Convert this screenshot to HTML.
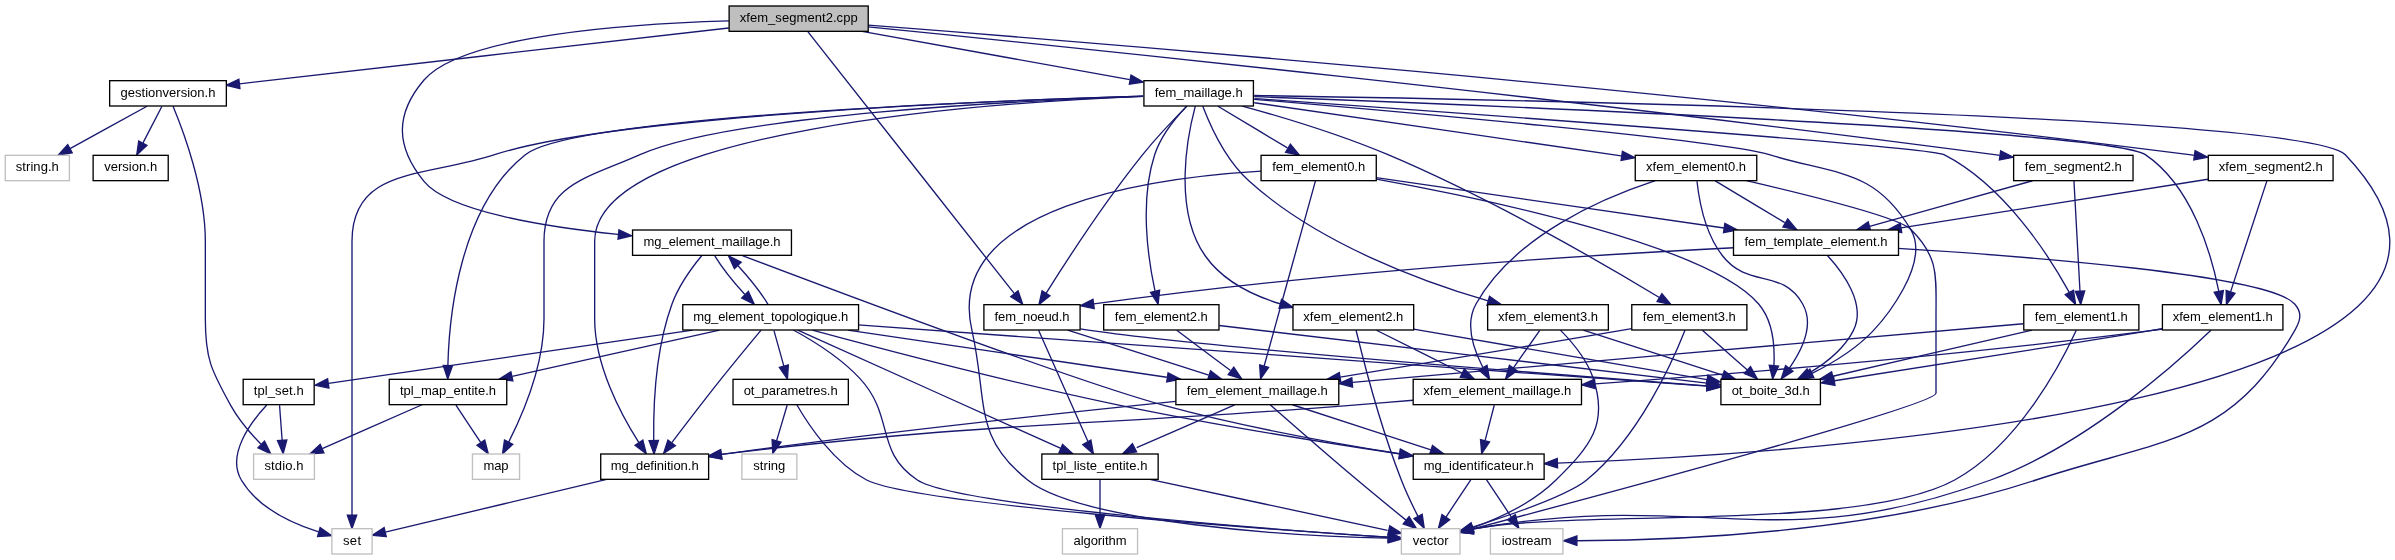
<!DOCTYPE html>
<html><head><meta charset="utf-8"><title>xfem_segment2.cpp</title>
<style>html,body{margin:0;padding:0;background:#fff}svg{display:block;will-change:transform}text{font-family:"Liberation Sans",Helvetica,Arial,sans-serif;font-size:13px;fill:#000;text-anchor:middle}.e{fill:none;stroke:#191970;stroke-width:1.33}.a{fill:#191970;stroke:#191970;stroke-width:1.33}.n{stroke-width:1.33}</style></head><body>
<svg width="2395" height="560" viewBox="0 0 2395 560">
<rect width="2395" height="560" fill="#fff"/>
<path class="e" d="M728.76,27.99C608.03,41.76 361.64,69.89 239.68,83.81"/>
<polygon class="a" points="239.92,88.48 226.15,85.36 238.87,79.21 239.92,88.48"/>
<path class="e" d="M868.29,25.2C1071.96,40.75 1684.09,89.84 2189.33,154.67 2191,154.88 2192.69,155.11 2194.4,155.32"/>
<polygon class="a" points="2195.07,150.71 2207.65,157.13 2193.81,159.96 2195.07,150.71"/>
<path class="e" d="M807.81,31.6C842.65,75.8 967.45,234.12 1014.17,293.39"/>
<polygon class="a" points="1018.07,290.8 1022.67,304.16 1010.75,296.57 1018.07,290.8"/>
<path class="e" d="M868.21,26.87C1052.29,45.25 1567.44,98.05 1994.67,154.67 1996.36,154.89 1998.08,155.12 1999.8,155.36"/>
<polygon class="a" points="2000.68,150.77 2013.24,157.25 1999.39,160.01 2000.68,150.77"/>
<path class="e" d="M728.97,20.81C631.6,23.59 462.41,34.95 424,80 394.79,114.27 395.59,146.39 424,181.33 448.27,211.17 543.68,226.67 618.12,234.37"/>
<polygon class="a" points="618.95,229.76 631.75,235.72 618.03,239.05 618.95,229.76"/>
<path class="e" d="M862.05,31.41C935.05,44.55 1054.56,66.07 1129.8,79.6"/>
<polygon class="a" points="1131.01,75.08 1143.31,82.04 1129.36,84.27 1131.01,75.08"/>
<path class="e" d="M173.04,106.2C183.23,130.63 205.33,189.57 205.33,241.33 205.33,241.33 205.33,241.33 205.33,318.67 205.33,358.8 211.23,370.23 230.67,405.33 238.56,419.6 250.39,433.36 260.89,444.09"/>
<polygon class="a" points="264.48,441.08 270.76,453.73 257.96,447.76 264.48,441.08"/>
<path class="e" d="M147,106.24C126.24,117.68 94.16,135.35 70.05,148.64"/>
<polygon class="a" points="72.2,152.77 58.28,155.13 67.71,144.6 72.2,152.77"/>
<path class="e" d="M161.84,106.56C156.72,116.41 149.31,130.73 142.99,142.92"/>
<polygon class="a" points="147,145.31 136.72,155 138.71,141.01 147,145.31"/>
<path class="e" d="M2207.92,179.27C2128.21,191.89 1990.32,213.73 1901.16,227.85"/>
<polygon class="a" points="1901.73,232.48 1887.83,229.96 1900.27,223.27 1901.73,232.48"/>
<path class="e" d="M2266.91,180.84C2259.12,204.61 2241.12,259.6 2230.64,291.64"/>
<polygon class="a" points="2235,293.32 2226.41,304.55 2226.13,290.43 2235,293.32"/>
<path class="e" d="M1733.68,247.75C1601.49,254.43 1333.55,270.76 1093.95,303.93"/>
<polygon class="a" points="1094.24,308.6 1080.39,305.83 1092.95,299.36 1094.24,308.6"/>
<path class="e" d="M1898.01,248.45C2027.89,256.36 2268.89,274.8 2294.67,304 2302.51,312.88 2300.59,320.4 2294.67,330.67 2228.29,445.63 2161.99,438.19 2036,480 1874.44,533.61 1670.12,540.61 1577.01,540.72"/>
<polygon class="a" points="1576.89,545.39 1563.57,540.69 1576.92,536.05 1576.89,545.39"/>
<path class="e" d="M1827.45,255.44C1842.83,272.23 1866.73,304.4 1853.33,330.67 1844,348.97 1826.17,363 1809.47,372.87"/>
<polygon class="a" points="1811.57,377.04 1797.63,379.32 1807.11,368.84 1811.57,377.04"/>
<path class="e" d="M1067.71,330.08C1105.77,342.24 1166.31,361.59 1208.72,375.13"/>
<polygon class="a" points="1210.52,370.81 1221.8,379.31 1207.68,379.69 1210.52,370.81"/>
<path class="e" d="M1038.59,330.17C1049.27,354.27 1074.18,410.43 1088.29,442.25"/>
<polygon class="a" points="1090.87,439.99 1093.44,453.88 1082.76,444.63 1090.87,439.99"/>
<path class="e" d="M1080.39,328.81C1084.31,329.49 1088.21,330.12 1092,330.67 1209.81,347.6 1561.84,375 1707,385.93"/>
<polygon class="a" points="1707.44,381.28 1720.39,386.93 1706.75,390.59 1707.44,381.28"/>
<path class="e" d="M1292.4,404.75C1329.8,416.91 1389.25,436.25 1430.91,449.8"/>
<polygon class="a" points="1432.52,445.41 1443.76,453.97 1429.64,454.29 1432.52,445.41"/>
<path class="e" d="M1270.17,404.67C1289.12,421.33 1325.71,453.36 1357.33,480 1373.41,493.55 1391.72,508.52 1406.03,520.12"/>
<polygon class="a" points="1409.08,516.6 1416.51,528.61 1403.21,523.85 1409.08,516.6"/>
<path class="e" d="M1175.79,401.41C1071.92,411.99 887,431.72 729.33,453.33 726.75,453.69 724.12,454.05 721.45,454.44"/>
<polygon class="a" points="721.93,459.09 708.05,456.44 720.55,449.87 721.93,459.09"/>
<path class="e" d="M1234.63,404.91C1208.18,416.45 1167.19,434.35 1136.69,447.67"/>
<polygon class="a" points="1136.65,451.89 1122.65,453.8 1132.41,443.59 1136.65,451.89"/>
<path class="e" d="M1486.59,479.89C1493.31,489.96 1503.12,504.68 1511.35,517.03"/>
<polygon class="a" points="1515.37,514.65 1518.89,528.33 1507.61,519.83 1515.37,514.65"/>
<path class="e" d="M1470.75,479.89C1464.03,489.96 1454.21,504.68 1445.99,517.03"/>
<polygon class="a" points="1449.72,519.83 1438.44,528.33 1441.96,514.65 1449.72,519.83"/>
<path class="e" d="M606.71,479.41C544.89,494.12 438.99,519.31 385.31,532.08"/>
<polygon class="a" points="386.28,536.64 372.23,535.19 384.12,527.56 386.28,536.64"/>
<path class="e" d="M1149.85,479.41C1215.5,493.48 1325.93,517.13 1387.57,530.35"/>
<polygon class="a" points="1389.81,525.87 1401.77,533.39 1387.73,534.96 1389.81,525.87"/>
<path class="e" d="M1100,479.89C1100,489.32 1100,502.85 1100,514.68"/>
<polygon class="a" points="1104.67,515 1100,528.33 1095.33,515 1104.67,515"/>
<path class="e" d="M2210.91,330.31C2178.87,361.16 2086.04,445.12 1990.67,480 1776.01,558.49 1703.96,489.51 1478.67,528 1476.71,528.33 1474.71,528.71 1472.71,529.11"/>
<polygon class="a" points="1473.48,533.72 1459.45,532.05 1471.45,524.6 1473.48,533.72"/>
<path class="e" d="M2162.56,328.72C2158.53,329.39 2154.55,330.04 2150.67,330.67 2039.57,348.69 1910.08,368.99 1834.55,380.75"/>
<polygon class="a" points="1834.99,385.4 1821.09,382.84 1833.55,376.19 1834.99,385.4"/>
<path class="e" d="M2162.61,329.01C2158.57,329.61 2154.56,330.16 2150.67,330.67 1954.2,356.03 1723.15,374.61 1595.17,383.93"/>
<polygon class="a" points="1595.24,388.61 1581.6,384.92 1594.57,379.31 1595.24,388.61"/>
<path class="e" d="M1494.25,405.23C1491.77,414.76 1488.21,428.48 1485.13,440.41"/>
<polygon class="a" points="1489.56,441.93 1481.69,453.67 1480.52,439.59 1489.56,441.93"/>
<path class="e" d="M1413.19,400.28C1392.73,401.96 1370.92,403.72 1350.67,405.33 1074.57,427.29 1004.37,420.67 729.33,453.33 726.75,453.64 724.11,453.97 721.44,454.32"/>
<polygon class="a" points="721.88,458.97 708.03,456.21 720.57,449.73 721.88,458.97"/>
<path class="e" d="M2032.56,180.75C1988.52,193.07 1918.15,212.75 1869.64,226.32"/>
<polygon class="a" points="1870.68,230.88 1856.59,229.97 1868.17,221.89 1870.68,230.88"/>
<path class="e" d="M2073.96,180.84C2075.25,204.51 2078.23,259.11 2079.99,291.2"/>
<polygon class="a" points="2084.64,290.97 2080.71,304.55 2075.32,291.48 2084.64,290.97"/>
<path class="e" d="M2023.39,323.73C1883.23,335.97 1524.71,367.31 1352.48,382.35"/>
<polygon class="a" points="1352.6,387.03 1338.91,383.53 1351.79,377.73 1352.6,387.03"/>
<path class="e" d="M2076.29,330.23C2062.21,360.92 2019.25,444.48 1954.67,480 1861.51,531.24 1583.4,509.72 1478.67,528 1476.71,528.35 1474.72,528.72 1472.71,529.12"/>
<polygon class="a" points="1473.49,533.73 1459.45,532.08 1471.45,524.63 1473.49,533.73"/>
<path class="e" d="M2032.11,330.08C1978.13,342.59 1891.44,362.68 1832.83,376.27"/>
<polygon class="a" points="1833.71,380.85 1819.67,379.31 1831.6,371.76 1833.71,380.85"/>
<path class="e" d="M742.36,255.53C829.51,288.52 1079.59,382.37 1164,405.33 1243.16,426.87 1335.56,443.51 1399.68,453.75"/>
<polygon class="a" points="1400.47,449.15 1412.91,455.83 1399.01,458.36 1400.47,449.15"/>
<path class="e" d="M701.87,255.47C692.4,266.91 678.73,285.4 672,304 655.35,349.97 653.31,407.79 653.72,440.24"/>
<polygon class="a" points="658.4,440.52 654.07,453.97 649.07,440.76 658.4,440.52"/>
<path class="e" d="M714.8,255.89C721.13,266.37 733.32,281.91 744.88,294.56"/>
<polygon class="a" points="748.41,291.49 754.32,304.33 741.71,297.97 748.41,291.49"/>
<path class="e" d="M847.79,330.08C934.45,342.89 1075.04,363.69 1166.84,377.28"/>
<polygon class="a" points="1168.08,372.75 1180.59,379.31 1166.71,381.97 1168.08,372.75"/>
<path class="e" d="M812.37,330.12C877.63,347.8 1008.03,382.12 1120,405.33 1215.53,425.15 1326.43,442.91 1399.33,453.87"/>
<polygon class="a" points="1400.44,449.31 1412.93,455.89 1399.05,458.55 1400.44,449.31"/>
<path class="e" d="M793.36,330.01C812.83,340.59 840.71,357.83 860,378.67 895.16,416.63 874.23,451.37 917.33,480 956.31,505.88 1272.47,529.41 1388.32,537.25"/>
<polygon class="a" points="1388.75,532.6 1401.73,538.15 1388.12,541.91 1388.75,532.6"/>
<path class="e" d="M761.09,330.08C751.08,342.08 734.93,361.57 721.33,378.67 704.24,400.15 685.19,425.03 671.84,442.6"/>
<polygon class="a" points="675.37,445.65 663.6,453.47 667.93,440.01 675.37,445.65"/>
<path class="e" d="M797.76,330.17C855.19,355.99 994.48,418.59 1061.41,448.65"/>
<polygon class="a" points="1062.59,444.37 1073.03,453.88 1058.93,452.96 1062.59,444.37"/>
<path class="e" d="M858.09,324.96C1055.95,339.21 1534.17,373.64 1707.01,386.08"/>
<polygon class="a" points="1707.4,381.43 1720.36,387.04 1706.73,390.75 1707.4,381.43"/>
<path class="e" d="M768,304.33C761.75,293.92 749.6,278.4 738.03,265.71"/>
<polygon class="a" points="734.45,268.73 728.57,255.89 741.19,262.27 734.45,268.73"/>
<path class="e" d="M692.71,330.08C590.56,345.03 414.35,370.81 328.53,383.37"/>
<polygon class="a" points="328.93,388.03 315.07,385.33 327.59,378.79 328.93,388.03"/>
<path class="e" d="M719.53,330.08C663.37,342.61 573.05,362.76 512.17,376.35"/>
<polygon class="a" points="512.92,380.96 498.89,379.31 510.88,371.85 512.92,380.96"/>
<path class="e" d="M773.97,330.56C776.65,340.2 780.52,354.12 783.85,366.13"/>
<polygon class="a" points="788.35,364.91 787.43,379 779.36,367.4 788.35,364.91"/>
<path class="e" d="M279.55,405.23C280.24,414.65 281.25,428.19 282.12,440.01"/>
<polygon class="a" points="286.8,440.03 283.13,453.67 277.49,440.71 286.8,440.03"/>
<path class="e" d="M266.76,405.01C250.84,422.11 226.25,454.67 241.33,480 257.92,507.85 292.44,523.57 318.55,531.87"/>
<polygon class="a" points="320.13,527.47 331.65,535.65 317.55,536.44 320.13,527.47"/>
<path class="e" d="M422.01,404.75C395.15,416.53 352.91,435.08 322.23,448.55"/>
<polygon class="a" points="323.95,452.89 309.87,453.97 320.2,444.35 323.95,452.89"/>
<path class="e" d="M455.92,405.23C462.64,415.29 472.45,430.01 480.68,442.36"/>
<polygon class="a" points="484.71,439.99 488.23,453.67 476.95,445.16 484.71,439.99"/>
<path class="e" d="M796.84,404.76C807.93,424.05 833.27,462.68 866.67,480 912.71,503.88 1264.88,529.08 1388.19,537.27"/>
<polygon class="a" points="1388.73,532.63 1401.73,538.16 1388.12,541.93 1388.73,532.63"/>
<path class="e" d="M787.15,405.23C784.28,414.87 780.16,428.79 776.6,440.8"/>
<polygon class="a" points="781.05,442.21 772.79,453.67 772.11,439.56 781.05,442.21"/>
<path class="e" d="M1186.96,106.15C1175.24,117.89 1156.93,136.88 1142.67,154.67 1104.93,201.71 1066.31,261.09 1046.19,293.08"/>
<polygon class="a" points="1049.99,295.8 1038.96,304.64 1042.07,290.85 1049.99,295.8"/>
<path class="e" d="M1254.21,95.47C1478.53,99 2307.39,114.68 2345.33,154.67 2581.55,403.56 1812.15,453.48 1557.59,463.12"/>
<polygon class="a" points="1557.57,467.79 1544.08,463.61 1557.23,458.47 1557.57,467.79"/>
<path class="e" d="M1142.92,96.36C993.4,102.43 594.67,129.11 594.67,241.33 594.67,241.33 594.67,241.33 594.67,318.67 594.67,365.43 621.12,414.75 638.89,442.61"/>
<polygon class="a" points="642.84,440.13 646.32,453.83 635.07,445.29 642.84,440.13"/>
<path class="e" d="M1142.87,96.13C998.37,100.47 614.92,115.41 494.67,154.67 424.13,177.68 352,167.15 352,241.33 352,241.33 352,241.33 352,393.33 352,436.07 352,485.81 352,515"/>
<polygon class="a" points="356.67,515.25 352,528.59 347.33,515.25 356.67,515.25"/>
<path class="e" d="M1254.21,99.29C1388.03,110.63 1720.79,139.89 1769.33,154.67 1837.29,175.35 1874,168.49 1910.67,229.33 1931.29,263.56 1882.84,320.52 1873.33,330.67 1856.27,348.88 1832.43,363.28 1812,373.4"/>
<polygon class="a" points="1813.88,377.67 1799.83,379.13 1809.89,369.23 1813.88,377.67"/>
<path class="e" d="M1254.28,96.64C1451.59,103.85 2108.24,129.64 2145.33,154.67 2192.17,186.28 2211.49,254.44 2218.76,291.24"/>
<polygon class="a" points="2223.37,290.53 2221.11,304.48 2214.19,292.17 2223.37,290.53"/>
<path class="e" d="M1254.59,98.6C1425.23,110.65 1928.65,146.81 1944,154.67 2004.37,185.56 2049.01,255.63 2069.27,292.43"/>
<polygon class="a" points="2073.47,290.39 2075.61,304.35 2065.23,294.76 2073.47,290.39"/>
<path class="e" d="M1143.23,96.15C990.75,100.71 573.28,116.56 525.33,154.67 459.85,206.71 449.2,315.41 447.89,365"/>
<polygon class="a" points="452.55,365.6 447.73,378.88 443.21,365.49 452.55,365.6"/>
<path class="e" d="M1142.95,96.31C1019.93,100.61 729.04,114.83 640,154.67 587.53,178.15 544,183.85 544,241.33 544,241.33 544,241.33 544,318.67 544,364.03 523.01,413.53 508.79,441.87"/>
<polygon class="a" points="512.79,444.31 502.48,453.96 504.51,439.99 512.79,444.31"/>
<path class="e" d="M1217.95,106.24C1236.67,117.47 1265.4,134.71 1287.39,147.91"/>
<polygon class="a" points="1290.4,144.27 1299.44,155.13 1285.6,152.27 1290.4,144.27"/>
<path class="e" d="M1242.35,106.03C1281.25,116.73 1339.39,134.16 1388,154.67 1491.25,198.23 1606.16,265.32 1659.33,297.52"/>
<polygon class="a" points="1661.93,293.64 1670.89,304.56 1657.08,301.61 1661.93,293.64"/>
<path class="e" d="M1186.64,106.21C1175.91,117.43 1160.93,135.52 1154.67,154.67 1139.53,200.89 1147.97,258.57 1154.99,290.95"/>
<polygon class="a" points="1159.61,290.23 1158.12,304.28 1150.53,292.36 1159.61,290.23"/>
<path class="e" d="M1254.27,102.72C1343.96,115.71 1520.67,141.28 1621.28,155.85"/>
<polygon class="a" points="1622.43,151.29 1634.95,157.83 1621.08,160.53 1622.43,151.29"/>
<path class="e" d="M1195.31,106.15C1187.72,134.56 1172.41,209.24 1205.33,256 1222.69,280.65 1252.03,295.2 1280.01,303.76"/>
<polygon class="a" points="1281.55,299.35 1293.16,307.4 1279.07,308.33 1281.55,299.35"/>
<path class="e" d="M1202.77,106.29C1209.75,124.49 1225.49,159.88 1249.33,181.33 1319.15,244.16 1423.16,281.96 1488.2,300.89"/>
<polygon class="a" points="1489.52,296.41 1501.07,304.53 1486.97,305.39 1489.52,296.41"/>
<path class="e" d="M1376.2,177.67C1461.48,190.01 1622.28,213.29 1724.03,228.01"/>
<polygon class="a" points="1724.83,223.41 1737.36,229.95 1723.49,232.65 1724.83,223.41"/>
<path class="e" d="M1315.47,180.87C1309.01,204.13 1293.96,258.41 1281.33,304 1275.53,324.92 1268.96,348.69 1264.15,366.04"/>
<polygon class="a" points="1268.65,367.28 1260.59,378.89 1259.65,364.8 1268.65,367.28"/>
<path class="e" d="M1261.08,171.16C1155.09,177.52 942.52,205.81 972,330.67 988.05,402.88 972.76,436.21 1027.67,480 1081.47,523.32 1299.81,536.68 1388.11,538.19"/>
<polygon class="a" points="1388.69,533.55 1401.77,538.85 1388.24,542.87 1388.69,533.55"/>
<path class="e" d="M1376.41,179.12C1483.97,198.57 1708.67,245.32 1758.67,304 1772.97,320.79 1774.91,346.41 1773.91,365.44"/>
<polygon class="a" points="1778.53,366.16 1772.65,379 1769.24,365.29 1778.53,366.16"/>
<path class="e" d="M1631.83,328.65C1627.83,329.33 1623.85,330.01 1620,330.67 1524.04,346.91 1413.71,365.09 1340.17,377.15"/>
<polygon class="a" points="1340.8,381.77 1326.88,379.32 1339.29,372.56 1340.8,381.77"/>
<path class="e" d="M1685,330.2C1673.49,359.37 1639.35,436.91 1586.67,480 1568.71,494.69 1512.31,514.44 1472.51,527.2"/>
<polygon class="a" points="1473.84,531.67 1459.72,531.24 1471.03,522.77 1473.84,531.67"/>
<path class="e" d="M1702.4,330.24C1714.43,340.88 1732.55,356.92 1747.09,369.8"/>
<polygon class="a" points="1750.47,366.56 1757.36,378.89 1744.28,373.55 1750.47,366.56"/>
<path class="e" d="M1176.76,330.24C1191.23,341.09 1213.17,357.55 1230.51,370.55"/>
<polygon class="a" points="1233.76,367.16 1241.63,378.89 1228.16,374.63 1233.76,367.16"/>
<path class="e" d="M1219.21,325.51C1333.65,339.03 1588.08,369.09 1707.05,383.15"/>
<polygon class="a" points="1707.83,378.55 1720.52,384.75 1706.73,387.81 1707.83,378.55"/>
<path class="e" d="M1715.28,180.91C1734,192.13 1762.73,209.37 1784.72,222.57"/>
<polygon class="a" points="1787.73,218.93 1796.77,229.8 1782.93,226.93 1787.73,218.93"/>
<path class="e" d="M1746.35,180.69C1806,194.57 1898.83,217.64 1910.67,229.33 1939.21,257.55 1936,275.87 1936,316 1936,316 1936,316 1936,393.33 1936,405.36 1593.91,496.88 1472.65,528.95"/>
<polygon class="a" points="1473.73,533.49 1459.65,532.39 1471.35,524.47 1473.73,533.49"/>
<path class="e" d="M1696.97,181.21C1698.97,199.16 1705,233.44 1722.67,256 1748.24,288.64 1782.24,267.92 1802.67,304 1814.33,324.61 1801.89,350.28 1789.28,368.31"/>
<polygon class="a" points="1793,371.13 1781.21,378.93 1785.56,365.49 1793,371.13"/>
<path class="e" d="M1655.37,180.72C1603.05,197.81 1514.31,235.64 1476,304 1464.91,323.8 1473.49,349.31 1482.87,367.52"/>
<polygon class="a" points="1487.03,365.4 1489.56,379.29 1478.92,370.01 1487.03,365.4"/>
<path class="e" d="M1356.07,330.23C1362.57,357.03 1379.99,425.28 1401.33,480 1406.13,492.29 1412.45,505.51 1418,516.39"/>
<polygon class="a" points="1422.19,514.33 1424.23,528.31 1413.92,518.65 1422.19,514.33"/>
<path class="e" d="M1413.57,329.05C1491.67,342.53 1627.28,365.93 1707.01,379.68"/>
<polygon class="a" points="1707.92,375.11 1720.27,381.97 1706.33,384.31 1707.92,375.11"/>
<path class="e" d="M1376.47,330.24C1399.56,341.79 1435.36,359.68 1462,373"/>
<polygon class="a" points="1464.41,368.99 1474.25,379.13 1460.24,377.33 1464.41,368.99"/>
<path class="e" d="M1560.39,330.15C1571.44,341.31 1586.85,359.36 1593.33,378.67 1608.59,424.17 1590.23,446.36 1556,480 1532.75,502.85 1499.11,518.31 1472.53,527.8"/>
<polygon class="a" points="1473.88,532.27 1459.76,532.11 1470.91,523.43 1473.88,532.27"/>
<path class="e" d="M1583.28,330.08C1620.91,342.24 1680.72,361.59 1722.63,375.13"/>
<polygon class="a" points="1724.29,370.77 1735.55,379.31 1721.43,379.65 1724.29,370.77"/>
<path class="e" d="M1539.64,330.56C1532.48,340.72 1521.97,355.65 1513.23,368.08"/>
<polygon class="a" points="1517.04,370.79 1505.55,379 1509.4,365.41 1517.04,370.79"/>
<rect class="n" x="729.12" y="6" width="139.1" height="25.33" fill="#bfbfbf" stroke="#000"/>
<text x="798.67" y="22" textLength="118">xfem_segment2.cpp</text>
<rect class="n" x="109.65" y="80.67" width="116.7" height="25.33" fill="white" stroke="#000"/>
<text x="168" y="96.67" textLength="95">gestionversion.h</text>
<rect class="n" x="2208.27" y="155.33" width="124.8" height="25.33" fill="white" stroke="#000"/>
<text x="2270.67" y="171.33" textLength="104">xfem_segment2.h</text>
<rect class="n" x="983.9" y="304.67" width="96.2" height="25.33" fill="white" stroke="#000"/>
<text x="1032" y="320.67" textLength="75">fem_noeud.h</text>
<rect class="n" x="2013.63" y="155.33" width="119.4" height="25.33" fill="white" stroke="#000"/>
<text x="2073.33" y="171.33" textLength="97">fem_segment2.h</text>
<rect class="n" x="632.55" y="230" width="158.9" height="25.33" fill="white" stroke="#000"/>
<text x="712" y="246" textLength="137">mg_element_maillage.h</text>
<rect class="n" x="1143.92" y="80.67" width="109.5" height="25.33" fill="white" stroke="#000"/>
<text x="1198.67" y="96.67" textLength="88">fem_maillage.h</text>
<rect class="n" x="253.6" y="454" width="60.8" height="25.33" fill="white" stroke="#bfbfbf"/>
<text x="284" y="470" textLength="39">stdio.h</text>
<rect class="n" x="5.28" y="155.33" width="64.1" height="25.33" fill="white" stroke="#bfbfbf"/>
<text x="37.33" y="171.33" textLength="43">string.h</text>
<rect class="n" x="93.12" y="155.33" width="75.1" height="25.33" fill="white" stroke="#000"/>
<text x="130.67" y="171.33" textLength="53">version.h</text>
<rect class="n" x="1733.5" y="230" width="165" height="25.33" fill="white" stroke="#000"/>
<text x="1816" y="246" textLength="143">fem_template_element.h</text>
<rect class="n" x="2162.42" y="304.67" width="120.5" height="25.33" fill="white" stroke="#000"/>
<text x="2222.67" y="320.67" textLength="100">xfem_element1.h</text>
<rect class="n" x="1490.42" y="528.67" width="72.5" height="25.33" fill="white" stroke="#bfbfbf"/>
<text x="1526.67" y="544.67" textLength="50">iostream</text>
<rect class="n" x="1720.92" y="379.33" width="99.5" height="25.33" fill="white" stroke="#000"/>
<text x="1770.67" y="395.33" textLength="78">ot_boite_3d.h</text>
<rect class="n" x="1175.88" y="379.33" width="162.9" height="25.33" fill="white" stroke="#000"/>
<text x="1257.33" y="395.33" textLength="141">fem_element_maillage.h</text>
<rect class="n" x="1041.85" y="454" width="116.3" height="25.33" fill="white" stroke="#000"/>
<text x="1100" y="470" textLength="95">tpl_liste_entite.h</text>
<rect class="n" x="1413.22" y="454" width="130.9" height="25.33" fill="white" stroke="#000"/>
<text x="1478.67" y="470" textLength="110">mg_identificateur.h</text>
<rect class="n" x="1401.37" y="528.67" width="58.6" height="25.33" fill="white" stroke="#bfbfbf"/>
<text x="1430.67" y="544.67" textLength="36">vector</text>
<rect class="n" x="600.72" y="454" width="107.9" height="25.33" fill="white" stroke="#000"/>
<text x="654.67" y="470" textLength="88">mg_definition.h</text>
<rect class="n" x="331.9" y="528.67" width="40.2" height="25.33" fill="white" stroke="#bfbfbf"/>
<text x="352" y="544.67" textLength="18">set</text>
<rect class="n" x="1062.45" y="528.67" width="75.1" height="25.33" fill="white" stroke="#bfbfbf"/>
<text x="1100" y="544.67" textLength="53">algorithm</text>
<rect class="n" x="1413.18" y="379.33" width="168.3" height="25.33" fill="white" stroke="#000"/>
<text x="1497.33" y="395.33" textLength="148">xfem_element_maillage.h</text>
<rect class="n" x="2023.78" y="304.67" width="115.1" height="25.33" fill="white" stroke="#000"/>
<text x="2081.33" y="320.67" textLength="93">fem_element1.h</text>
<rect class="n" x="682.77" y="304.67" width="175.8" height="25.33" fill="white" stroke="#000"/>
<text x="770.67" y="320.67" textLength="155">mg_element_topologique.h</text>
<rect class="n" x="243.17" y="379.33" width="71" height="25.33" fill="white" stroke="#000"/>
<text x="278.67" y="395.33" textLength="50">tpl_set.h</text>
<rect class="n" x="389.25" y="379.33" width="117.5" height="25.33" fill="white" stroke="#000"/>
<text x="448" y="395.33" textLength="96">tpl_map_entite.h</text>
<rect class="n" x="733.02" y="379.33" width="115.3" height="25.33" fill="white" stroke="#000"/>
<text x="790.67" y="395.33" textLength="94">ot_parametres.h</text>
<rect class="n" x="472.45" y="454" width="47.1" height="25.33" fill="white" stroke="#bfbfbf"/>
<text x="496" y="470" textLength="25">map</text>
<rect class="n" x="741.83" y="454" width="55" height="25.33" fill="white" stroke="#bfbfbf"/>
<text x="769.33" y="470" textLength="32">string</text>
<rect class="n" x="1261.07" y="155.33" width="115.2" height="25.33" fill="white" stroke="#000"/>
<text x="1318.67" y="171.33" textLength="93">fem_element0.h</text>
<rect class="n" x="1631.78" y="304.67" width="115.1" height="25.33" fill="white" stroke="#000"/>
<text x="1689.33" y="320.67" textLength="93">fem_element3.h</text>
<rect class="n" x="1103.68" y="304.67" width="115.3" height="25.33" fill="white" stroke="#000"/>
<text x="1161.33" y="320.67" textLength="93">fem_element2.h</text>
<rect class="n" x="1635.25" y="155.33" width="121.5" height="25.33" fill="white" stroke="#000"/>
<text x="1696" y="171.33" textLength="100">xfem_element0.h</text>
<rect class="n" x="1292.98" y="304.67" width="120.7" height="25.33" fill="white" stroke="#000"/>
<text x="1353.33" y="320.67" textLength="100">xfem_element2.h</text>
<rect class="n" x="1487.65" y="304.67" width="120.7" height="25.33" fill="white" stroke="#000"/>
<text x="1548" y="320.67" textLength="100">xfem_element3.h</text>
</svg></body></html>
